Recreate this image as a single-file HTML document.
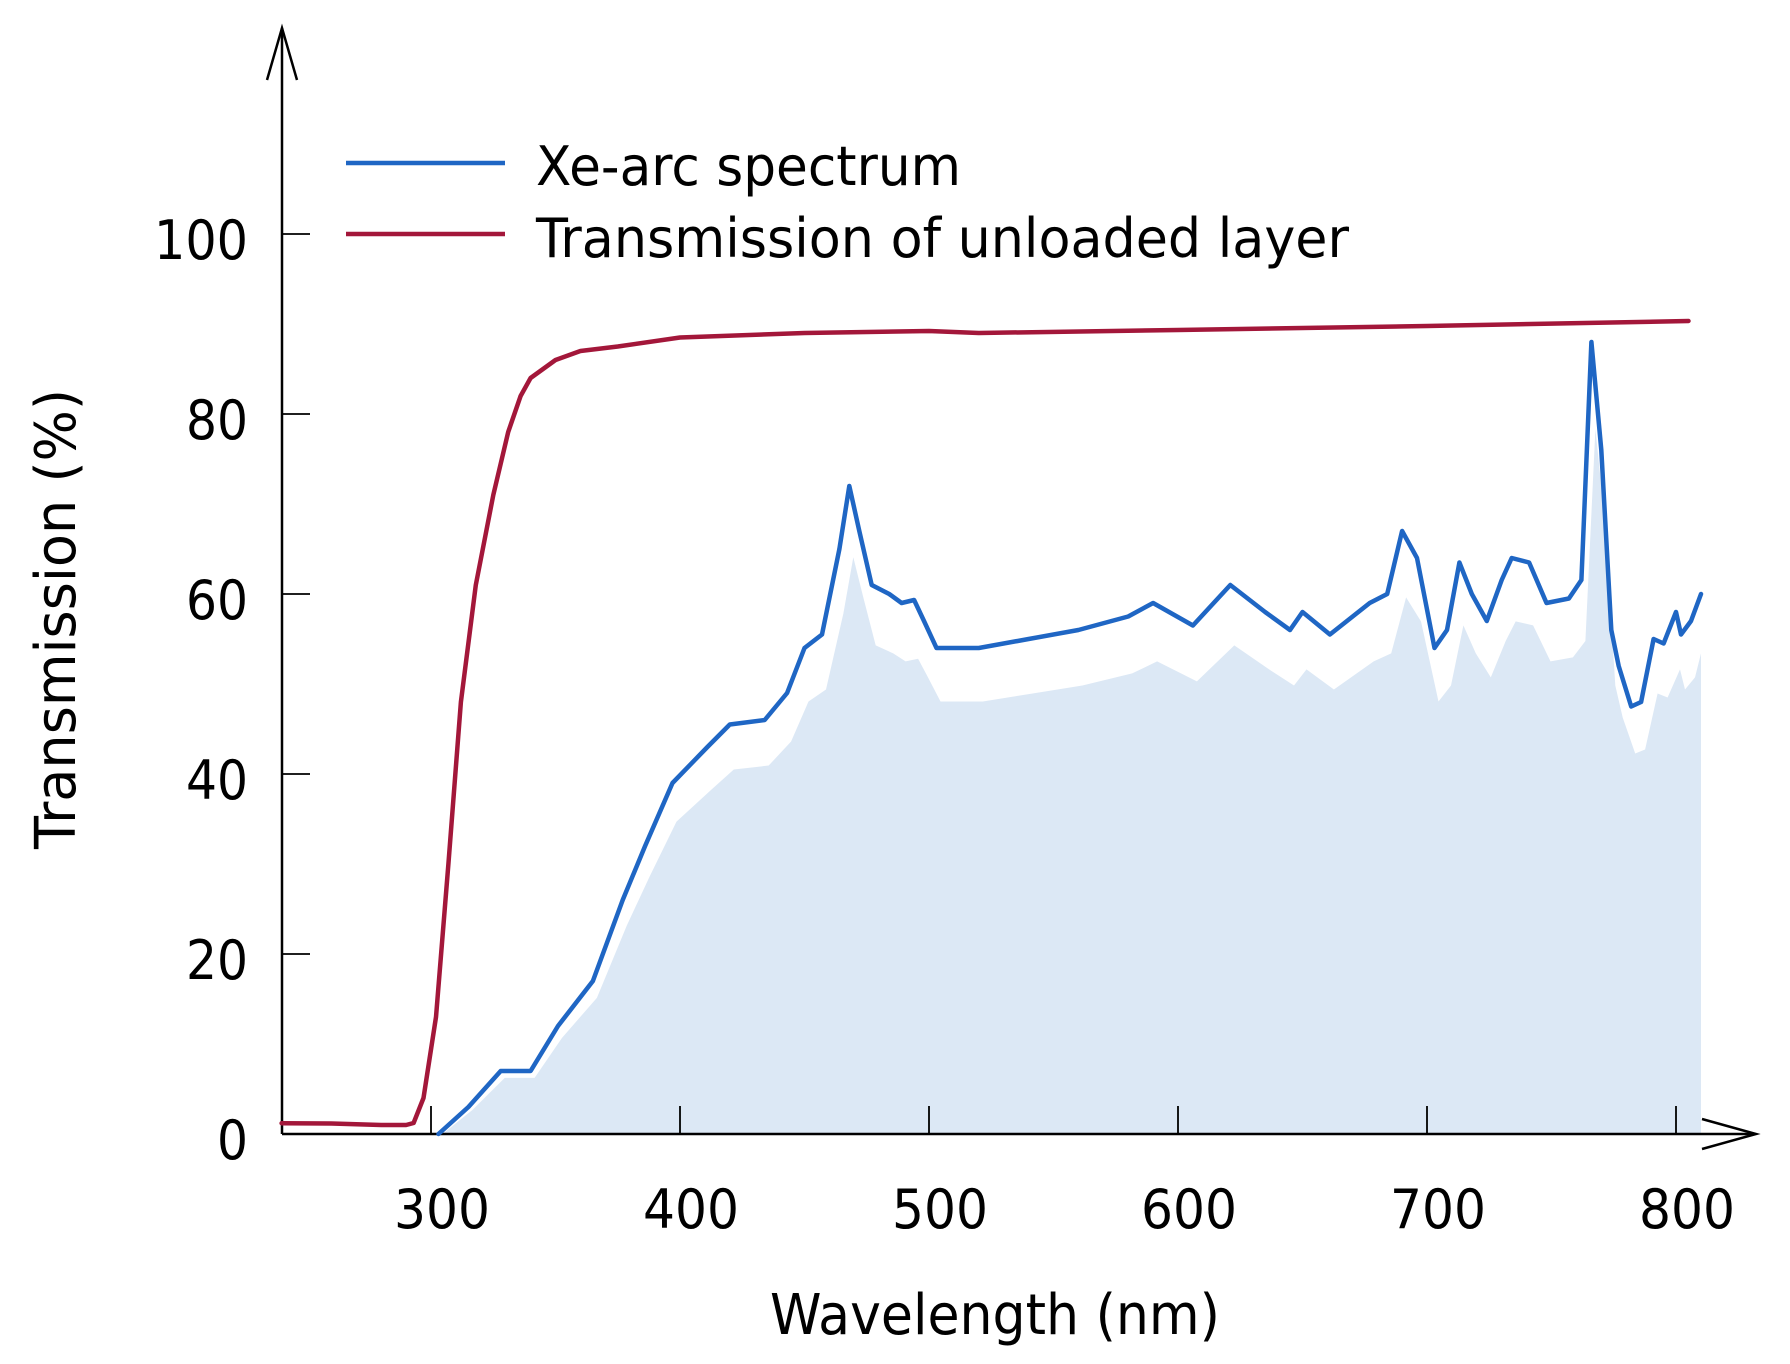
<!DOCTYPE html>
<html><head><meta charset="utf-8"><style>
html,body{margin:0;padding:0;background:#fff}
svg{display:block}
text{font-family:"DejaVu Sans","Liberation Sans",sans-serif;fill:#000}
</style></head><body>
<svg width="1790" height="1364" viewBox="0 0 1790 1364" xmlns="http://www.w3.org/2000/svg">
<defs>
<polyline id="blue" points="438.5,1134 468.4,1107 500.7,1071 530.6,1071 558,1026 592.9,981 622.7,900 645.1,846 672.5,783 707.4,747 729.8,724.5 764.7,720 787.1,693 804.5,648 822,634.5 839.4,549 849.3,486 859.3,531 871.7,585 889.2,594 901.6,603 914.1,600 924,621 936.5,648 978.8,648 1028.6,639 1078.4,630 1128.2,616.5 1153.1,603 1192.9,625.5 1230.3,585 1265.1,612 1290,630 1302.5,612 1329.9,634.5 1369.7,603 1387.2,594 1402.1,531 1417,558 1434.5,648 1447,630 1459.4,562.5 1471.8,594 1486.8,621 1501.7,580 1511.7,558 1529.1,562.5 1546.5,603 1568.9,598.5 1581.4,580 1591.4,342 1601.3,450 1611.3,630 1618.7,666 1631.2,706.5 1641.1,702 1653.6,639 1663.6,643.5 1676,612 1681,634.5 1691,621 1701,594"/>
</defs>
<g transform="translate(4,1134) scale(1,0.89) translate(0,-1134)">
<polygon fill="#dce8f5" points="438.5,1134 468.4,1107 500.7,1071 530.6,1071 558,1026 592.9,981 622.7,900 645.1,846 672.5,783 707.4,747 729.8,724.5 764.7,720 787.1,693 804.5,648 822,634.5 839.4,549 849.3,486 859.3,531 871.7,585 889.2,594 901.6,603 914.1,600 924,621 936.5,648 978.8,648 1028.6,639 1078.4,630 1128.2,616.5 1153.1,603 1192.9,625.5 1230.3,585 1265.1,612 1290,630 1302.5,612 1329.9,634.5 1369.7,603 1387.2,594 1402.1,531 1417,558 1434.5,648 1447,630 1459.4,562.5 1471.8,594 1486.8,621 1501.7,580 1511.7,558 1529.1,562.5 1546.5,603 1568.9,598.5 1581.4,580 1591.4,342 1601.3,450 1611.3,630 1618.7,666 1631.2,706.5 1641.1,702 1653.6,639 1663.6,643.5 1676,612 1681,634.5 1691,621 1697,594 1697,1134"/>
</g>
<g stroke="#000" stroke-width="2.5" fill="none">
<line x1="282" y1="1134" x2="282" y2="28"/>
<polyline points="267,80 282,28 297,80"/>
<line x1="282" y1="1134" x2="1754" y2="1134"/>
<polyline points="1702,1119 1756,1134 1702,1149"/>
<line x1="282" y1="234" x2="310" y2="234" stroke-width="1.8"/>
<line x1="282" y1="414" x2="310" y2="414" stroke-width="1.8"/>
<line x1="282" y1="594" x2="310" y2="594" stroke-width="1.8"/>
<line x1="282" y1="774" x2="310" y2="774" stroke-width="1.8"/>
<line x1="282" y1="954" x2="310" y2="954" stroke-width="1.8"/>
<line x1="431" y1="1134" x2="431" y2="1106" stroke-width="1.8"/>
<line x1="680" y1="1134" x2="680" y2="1106" stroke-width="1.8"/>
<line x1="929" y1="1134" x2="929" y2="1106" stroke-width="1.8"/>
<line x1="1178" y1="1134" x2="1178" y2="1106" stroke-width="1.8"/>
<line x1="1427" y1="1134" x2="1427" y2="1106" stroke-width="1.8"/>
<line x1="1676" y1="1134" x2="1676" y2="1106" stroke-width="1.8"/>
</g>
<polyline fill="none" stroke="#a3173a" stroke-width="4.5" stroke-linejoin="round" stroke-linecap="round" points="281.6,1123.2 331.4,1123.5 381.2,1125 406.1,1125 413.6,1123 423.5,1098 436,1017 448.4,864 460.9,702 475.8,585 493.3,495 508.2,432 520.6,396 530.6,378 555.5,360 580.4,351 617.8,346.5 680,337.5 804.5,333 929,331 978.8,333 1178,330 1427,326 1688.5,321"/>
<use href="#blue" fill="none" stroke="#1f66c4" stroke-width="4.5" stroke-linejoin="round" stroke-linecap="round"/>
<line x1="346" y1="163" x2="505" y2="163" stroke="#1f66c4" stroke-width="4.5"/>
<line x1="346" y1="234" x2="505" y2="234" stroke="#a3173a" stroke-width="4.5"/>
<text x="536" y="185" font-size="54" textLength="425" lengthAdjust="spacingAndGlyphs">Xe-arc spectrum</text>
<text x="536" y="257" font-size="54" textLength="813" lengthAdjust="spacingAndGlyphs">Transmission of unloaded layer</text>
<g font-size="54" text-anchor="end">
<text x="248" y="259" textLength="94" lengthAdjust="spacingAndGlyphs">100</text>
<text x="248" y="439" textLength="62" lengthAdjust="spacingAndGlyphs">80</text>
<text x="248" y="619" textLength="62" lengthAdjust="spacingAndGlyphs">60</text>
<text x="248" y="799" textLength="62" lengthAdjust="spacingAndGlyphs">40</text>
<text x="248" y="979" textLength="62" lengthAdjust="spacingAndGlyphs">20</text>
<text x="248" y="1159" textLength="31" lengthAdjust="spacingAndGlyphs">0</text>
</g>
<g font-size="54" text-anchor="middle">
<text x="442" y="1228" textLength="96" lengthAdjust="spacingAndGlyphs">300</text>
<text x="691" y="1228" textLength="96" lengthAdjust="spacingAndGlyphs">400</text>
<text x="940" y="1228" textLength="96" lengthAdjust="spacingAndGlyphs">500</text>
<text x="1189" y="1228" textLength="96" lengthAdjust="spacingAndGlyphs">600</text>
<text x="1438" y="1228" textLength="96" lengthAdjust="spacingAndGlyphs">700</text>
<text x="1687" y="1228" textLength="96" lengthAdjust="spacingAndGlyphs">800</text>
</g>
<text x="995" y="1334" font-size="56" text-anchor="middle" textLength="450" lengthAdjust="spacingAndGlyphs">Wavelength (nm)</text>
<text transform="translate(75,619) rotate(-90)" font-size="56" text-anchor="middle" textLength="460" lengthAdjust="spacingAndGlyphs">Transmission (%)</text>
</svg>
</body></html>
